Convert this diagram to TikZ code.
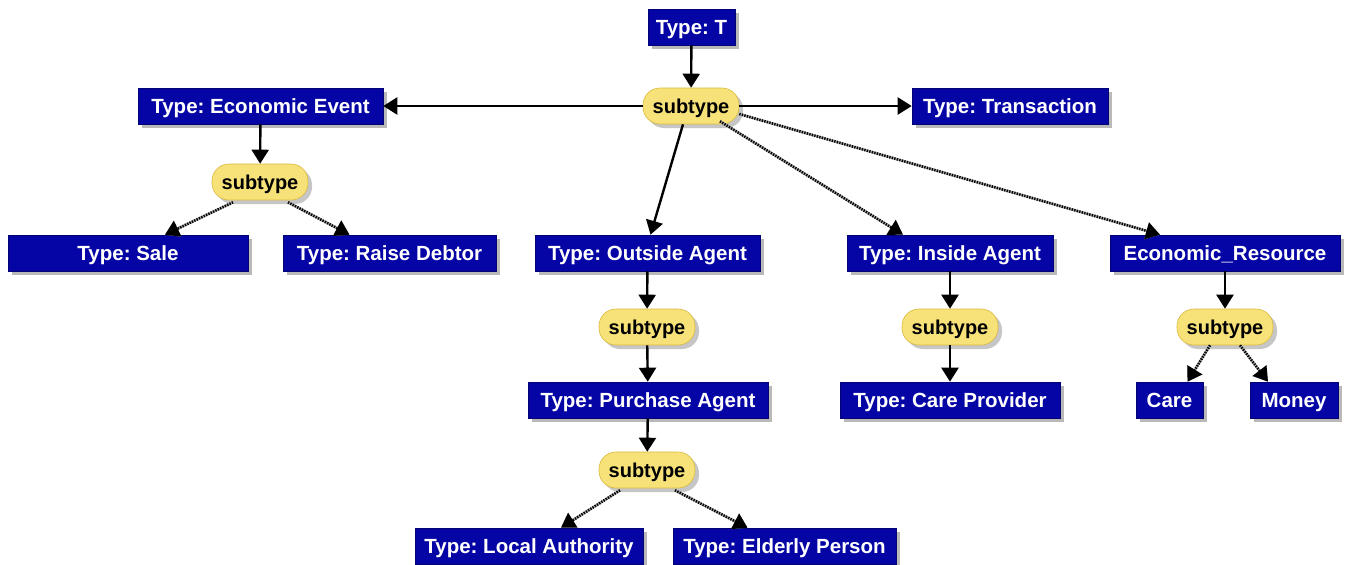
\documentclass[tikz,border=0pt]{standalone}
\usepackage{fontspec}
\setmainfont{Liberation Sans}
\usetikzlibrary{arrows.meta,shadows}
\definecolor{boxblue}{HTML}{0505A5}
\definecolor{subyellow}{HTML}{F7E27A}
\definecolor{subedge}{HTML}{D9B93A}
\tikzset{
  typebox/.style={draw=boxblue!70!black, line width=0.6pt, fill=boxblue, text=white,
    font=\fontsize{20.5}{24}\selectfont\bfseries\frenchspacing, minimum height=36pt, inner sep=0pt,
    text height=16pt, text depth=2pt,
    drop shadow={shadow xshift=4pt, shadow yshift=-4pt, fill=gray!55, opacity=1}},
  subbox/.style={draw=subedge, line width=0.6pt, fill=subyellow, text=black,
    rounded corners=17pt, font=\fontsize{20}{24}\selectfont\bfseries,
    minimum width=96pt, minimum height=36pt, inner sep=0pt,
    text height=16pt, text depth=2pt,
    drop shadow={shadow xshift=4pt, shadow yshift=-4pt, fill=gray!45, opacity=1}},
  arr/.style={line width=2.4pt, -{Triangle[width=17pt,length=14pt]}},
  hatch/.style={draw=gray!70, line width=2.6pt, -{Triangle[width=17pt,length=14pt]},
    postaction={draw=black, line width=2.6pt, dash pattern=on 1.3pt off 1.3pt}}
}
\begin{document}
\begin{tikzpicture}[x=1pt,y=-1pt]
\useasboundingbox[fill=white] (0,0) rectangle (1353,565);
% type boxes
\node[typebox, minimum width=87pt]  (T)   at (691.5,27)  {Type: T};
\node[typebox, minimum width=245pt] (EE)  at (260.5,106) {Type: Economic Event};
\node[typebox, minimum width=196pt] (TR)  at (1010,106)  {Type: Transaction};
\node[typebox, minimum width=240pt] (SA)  at (128,253)   {Type: Sale};
\node[typebox, minimum width=213pt] (RD)  at (389.5,253) {Type: Raise Debtor};
\node[typebox, minimum width=225pt] (OA)  at (647.5,253) {Type: Outside Agent};
\node[typebox, minimum width=206pt] (IA)  at (950,253)   {Type: Inside Agent};
\node[typebox, minimum width=230pt] (ER)  at (1225,253)  {Economic\_Resource};
\node[typebox, minimum width=240pt] (PA)  at (648,400)   {Type: Purchase Agent};
\node[typebox, minimum width=220pt] (CP)  at (950,400)   {Type: Care Provider};
\node[typebox, minimum width=67pt]  (CA)  at (1169.5,400){Care};
\node[typebox, minimum width=88pt]  (MO)  at (1294,400)  {Money};
\node[typebox, minimum width=228pt] (LA)  at (529,546)   {Type: Local Authority};
\node[typebox, minimum width=223pt] (EP)  at (784.5,546) {Type: Elderly Person};
% subtype nodes
\node[subbox] (s0)  at (691,106) {subtype};
\node[subbox] (sEE) at (260,182) {subtype};
\node[subbox] (sOA) at (647,327) {subtype};
\node[subbox] (sIA) at (950,327) {subtype};
\node[subbox] (sER) at (1225,327) {subtype};
\node[subbox] (sPA) at (647,470) {subtype};
% solid connectors
\draw[arr] (T) -- (s0);
\draw[arr] (s0) -- (EE);
\draw[arr] (s0) -- (TR);
\draw[arr] (EE) -- (sEE);
\draw[arr] (OA) -- (sOA);
\draw[arr] (sOA) -- (PA);
\draw[arr] (PA) -- (sPA);
\draw[arr] (IA) -- (sIA);
\draw[arr] (sIA) -- (CP);
\draw[arr] (ER) -- (sER);
\draw[arr] ([xshift=-8pt]s0.south) -- ([xshift=3pt]OA.north);
% hatched connectors
\draw[hatch] ([xshift=29pt,yshift=3pt]s0.south) -- ([xshift=-47pt]IA.north);
\draw[hatch] ([yshift=-8pt]s0.east) -- ([xshift=-65pt]ER.north);
\draw[hatch] ([xshift=-27pt,yshift=-2pt]sEE.south) -- ([xshift=37pt]SA.north);
\draw[hatch] ([xshift=28pt,yshift=-2pt]sEE.south) -- ([xshift=-40pt]RD.north);
\draw[hatch] ([xshift=-27pt,yshift=-2pt]sPA.south) -- ([xshift=32pt]LA.north);
\draw[hatch] ([xshift=28pt,yshift=-2pt]sPA.south) -- ([xshift=-37pt]EP.north);
\draw[hatch] ([xshift=-15pt]sER.south) -- ([xshift=18pt]CA.north);
\draw[hatch] ([xshift=15pt]sER.south) -- ([xshift=-26pt]MO.north);
\end{tikzpicture}
\end{document}
